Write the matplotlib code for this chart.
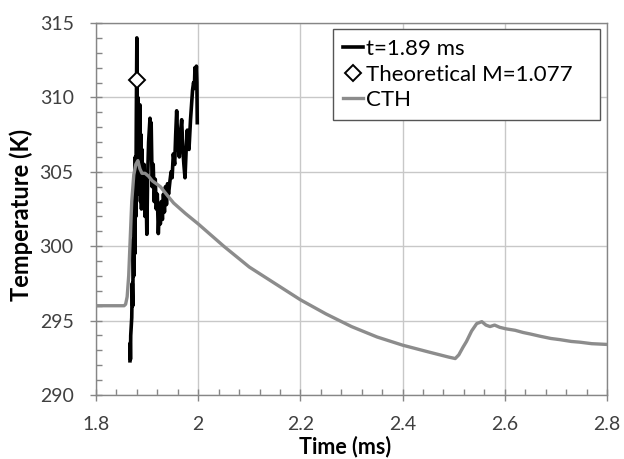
import matplotlib
matplotlib.use("Agg")
import matplotlib.pyplot as plt
import matplotlib.ticker as mticker
import numpy as np

plt.rcParams["font.family"] = ["Lato", "DejaVu Sans"]

# measured temperature at t=1.89 ms
meas_t = [1.8665, 1.8670, 1.8675, 1.8680, 1.8690, 1.8700, 1.8710, 1.8720, 1.8730,
          1.8740, 1.8750, 1.8760, 1.8770, 1.8780, 1.8790, 1.8800, 1.8810, 1.8820,
          1.8830, 1.8840, 1.8850, 1.8860, 1.8870, 1.8880, 1.8890, 1.8900, 1.8920,
          1.8940, 1.8960, 1.8980, 1.8995, 1.9010, 1.9030, 1.9057, 1.9065, 1.9080,
          1.9100, 1.9120, 1.9140, 1.9160, 1.9180, 1.9200, 1.9220, 1.9240, 1.9260,
          1.9280, 1.9300, 1.9320, 1.9340, 1.9360, 1.9380, 1.9400, 1.9420, 1.9448,
          1.9470, 1.9490, 1.9513, 1.9540, 1.9560, 1.9579, 1.9600, 1.9631, 1.9650,
          1.9677, 1.9700, 1.9720, 1.9742, 1.9765, 1.9787, 1.9800, 1.9820, 1.9850,
          1.9870, 1.9890, 1.9910, 1.9925, 1.9937, 1.9950, 1.9965, 1.9975, 1.9982]
meas_T = [292.3, 293.5, 292.4, 294.0, 294.6, 295.2, 297.5, 296.0, 300.5,
          298.0, 303.5, 299.5, 306.0, 302.0, 309.0, 314.0, 305.5, 310.0,
          303.5, 308.5, 304.0, 309.5, 303.0, 307.5, 302.5, 306.5, 303.0,
          305.5, 302.0, 304.0, 300.8, 304.5, 307.0, 308.6, 306.0, 308.3,
          304.0, 305.5, 303.0, 304.5, 302.5, 303.5, 300.85, 302.5, 301.5,
          303.0, 301.8, 303.5, 302.3, 304.0, 302.8, 304.2, 303.5, 304.4,
          305.0, 304.6, 306.2, 305.5, 307.5, 309.1, 307.0, 306.0, 307.5,
          308.5, 306.5, 305.5, 304.6, 306.5, 307.8, 306.8, 306.5, 308.5,
          309.5, 310.5, 311.0, 310.6, 312.0, 311.2, 312.1, 311.0, 308.3]

# theoretical value
theo_t = [1.880]
theo_T = [311.2]

# CTH simulation
cth_t = [1.800, 1.855, 1.858, 1.861, 1.864, 1.867, 1.870, 1.874, 1.878, 1.882,
         1.886, 1.890, 1.896, 1.903, 1.910, 1.918, 1.926, 1.940, 1.952, 1.975,
         2.000, 2.050, 2.100, 2.150, 2.200, 2.250, 2.300, 2.350, 2.400, 2.450,
         2.490, 2.503, 2.510, 2.518, 2.525, 2.535, 2.545, 2.555, 2.563, 2.571,
         2.580, 2.590, 2.602, 2.620, 2.636, 2.650, 2.669, 2.690, 2.708, 2.730,
         2.747, 2.770, 2.800]
cth_T = [296.0, 296.0, 296.1, 296.6, 298.0, 300.5, 303.0, 304.8, 305.5, 305.75,
         305.2, 304.9, 304.9, 304.7, 304.4, 304.2, 304.0, 303.4, 302.9, 302.2,
         301.5, 300.0, 298.6, 297.5, 296.4, 295.45, 294.6, 293.9, 293.35, 292.9,
         292.55, 292.45, 292.7, 293.2, 293.6, 294.3, 294.8, 294.93, 294.7, 294.6,
         294.7, 294.55, 294.45, 294.35, 294.2, 294.1, 293.95, 293.8, 293.72, 293.6,
         293.55, 293.45, 293.4]

SPINE = "#868686"
GRID = "#c8c8c8"

fig = plt.figure(figsize=(6.24, 4.59), dpi=100)
ax = fig.add_axes([0.1538, 0.1394, 0.8190, 0.8105])

ax.plot(meas_t, meas_T, color="black", lw=2.6, label="t=1.89 ms", zorder=2)
ax.plot(theo_t, theo_T, ls="none", marker="D", ms=8, mfc="white", mec="black",
        mew=1.4, label="Theoretical M=1.077", zorder=4)
ax.plot(cth_t, cth_T, color="#8c8c8c", lw=2.4, label="CTH", zorder=3)

ax.set_xlim(1.8, 2.8)
ax.set_ylim(290, 315)
ax.xaxis.set_major_locator(mticker.MultipleLocator(0.2))
ax.xaxis.set_minor_locator(mticker.MultipleLocator(0.04))
ax.yaxis.set_major_locator(mticker.MultipleLocator(5))
ax.yaxis.set_minor_locator(mticker.MultipleLocator(1))
ax.xaxis.set_major_formatter(mticker.FuncFormatter(lambda v, p: f"{v:g}"))

ax.grid(which="major", color=GRID, lw=1.0)
ax.set_axisbelow(True)
for s in ax.spines.values():
    s.set_color(SPINE)
    s.set_linewidth(1.0)
ax.tick_params(which="major", direction="inout", length=8, width=1.0, color=SPINE,
               labelsize=14, labelcolor="#404040")
ax.tick_params(axis="y", which="major", pad=12)
ax.tick_params(axis="x", which="major", pad=11)
ax.tick_params(which="minor", direction="in", length=4, width=1.0, color=SPINE)

ax.set_xlabel("Time (ms)", fontsize=15.5, fontweight="bold", va="bottom")
ax.set_ylabel("Temperature (K)", fontsize=17, fontweight="bold")
ax.xaxis.set_label_coords(0.487, -0.167)
ax.yaxis.set_label_coords(-0.123, 0.484)

leg = ax.legend(loc="upper left", bbox_to_anchor=(0.464, 0.747, 0.522, 0.237),
                mode="expand", borderaxespad=0, fontsize=16, frameon=True,
                fancybox=False, handlelength=0.9, handletextpad=0.15,
                labelspacing=0.25, borderpad=0.45, numpoints=1)
leg.get_frame().set_edgecolor("#555555")
leg.get_frame().set_linewidth(1.0)
leg.get_frame().set_alpha(1.0)

fig.savefig("out.png", dpi=100)
